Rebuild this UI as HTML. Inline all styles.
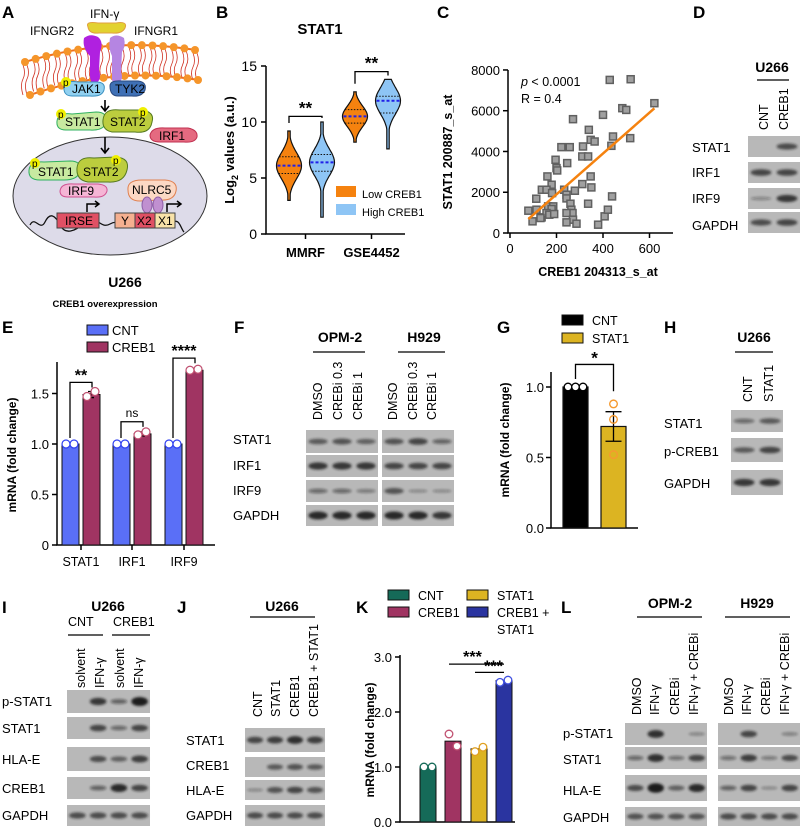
<!DOCTYPE html>
<html><head><meta charset="utf-8"><style>
html,body{margin:0;padding:0;background:#fff;}
svg{display:block;font-family:"Liberation Sans",Arial,sans-serif;}
</style></head><body>
<svg id="fig" width="800" height="830" viewBox="0 0 800 830" xmlns="http://www.w3.org/2000/svg">
<defs><filter id="blur" x="-50%" y="-100%" width="200%" height="300%"><feGaussianBlur stdDeviation="1.2"/></filter></defs>
<g font-weight="bold" font-size="17">
<text x="2" y="18">A</text>
<text x="216" y="18">B</text>
<text x="437" y="18">C</text>
<text x="693" y="18">D</text>
<text x="2" y="333">E</text>
<text x="234" y="333">F</text>
<text x="497" y="333">G</text>
<text x="664" y="333">H</text>
<text x="2" y="613">I</text>
<text x="177" y="613">J</text>
<text x="356" y="613">K</text>
<text x="561" y="613">L</text>
</g>

<!-- Panel A diagram -->
<g font-size="12">
<text x="90" y="18">IFN-γ</text>
<text x="30" y="35">IFNGR2</text>
<text x="134" y="35">IFNGR1</text>
<g id="membrane"></g>
<path d="M88 27 Q85 21 98 23 L116 23 Q128 21 125 28 Q122 34 112 33 L99 33 Q89 34 88 27Z" fill="#e2d230" stroke="#e0a040"/>
<path d="M84 38 Q90 33 98 37 Q104 42 100 52 L99 70 Q102 80 96 83 Q90 84 90 76 L90 56 Q82 48 84 38Z" fill="#b020e0"/>
<path d="M110 38 Q116 33 124 38 Q126 46 122 52 L121 72 Q124 80 118 83 Q111 84 112 76 L112 56 Q108 48 110 38Z" fill="#b585e2"/>
<path d="M64 86 Q66 80 78 82 L96 82 Q106 82 104 90 Q102 97 90 96 L72 96 Q63 96 64 86Z" fill="#90d0f0" stroke="#3a90c0"/>
<text x="72" y="93">JAK1</text>
<circle cx="66" cy="82" r="5" fill="#f0f000"/><text x="63" y="86" font-size="10">p</text>
<path d="M110 86 Q110 80 122 81 L138 81 Q147 82 145 90 Q142 97 132 96 L118 96 Q110 96 110 86Z" fill="#3f70b5" stroke="#2a4a80"/>
<text x="115" y="93">TYK2</text>
<path d="M105 100 L105 110 M101 106 L105 111 L109 106" stroke="#000" stroke-width="1.6" fill="none"/>
<path d="M57 121 Q58 112 72 114 L96 112 Q108 112 106 122 Q104 131 90 130 L66 130 Q56 130 57 121Z" fill="#c8eaa0" stroke="#30b060"/>
<path d="M103 120 Q104 108 120 110 L142 110 Q155 112 152 122 Q150 134 135 132 L112 132 Q102 130 103 120Z" fill="#bccd3e" stroke="#557a20"/>
<text x="65" y="126">STAT1</text><text x="110" y="126">STAT2</text>
<circle cx="61" cy="114" r="5" fill="#f0f000"/><text x="58" y="118" font-size="10">p</text>
<circle cx="143" cy="112" r="5" fill="#f0f000"/><text x="140" y="116" font-size="10">p</text>
<path d="M150 135 Q152 127 165 128 L188 128 Q198 130 197 137 Q195 143 184 142 L160 142 Q150 142 150 135Z" fill="#e56a80" stroke="#c03050"/>
<text x="159" y="140">IRF1</text>
<ellipse cx="110" cy="196" rx="97" ry="59" fill="#dddbe9" stroke="#333" stroke-width="1"/>
<path d="M105 137 L105 152 M101 148 L105 153 L109 148" stroke="#000" stroke-width="1.6" fill="none"/>
<path d="M29 170 Q30 161 44 162 L70 161 Q82 161 80 171 Q78 180 64 180 L40 180 Q28 180 29 170Z" fill="#c8eaa0" stroke="#30b060"/>
<path d="M77 168 Q78 156 94 158 L116 157 Q130 158 127 170 Q124 183 108 182 L88 182 Q76 180 77 168Z" fill="#bccd3e" stroke="#557a20"/>
<text x="38" y="176">STAT1</text><text x="83" y="176">STAT2</text>
<circle cx="35" cy="163" r="5" fill="#f0f000"/><text x="32" y="167" font-size="10">p</text>
<circle cx="116" cy="160" r="5" fill="#f0f000"/><text x="113" y="164" font-size="10">p</text>
<path d="M60 191 Q61 183 74 184 L98 184 Q108 185 107 191 Q105 198 94 197 L68 197 Q60 197 60 191Z" fill="#f5b5d5" stroke="#d05090"/>
<text x="68" y="195">IRF9</text>
<path d="M128 190 Q127 180 142 180 L165 180 Q178 181 176 191 Q174 201 160 200 L140 201 Q128 201 128 190Z" fill="#fbd8c4" stroke="#e08050"/>
<text x="132" y="194">NLRC5</text>
<ellipse cx="147" cy="205" rx="5" ry="8" fill="#c090d0" stroke="#9060a8"/><ellipse cx="158" cy="205" rx="5" ry="8" fill="#c090d0" stroke="#9060a8"/>
<path d="M30 225 C35 215 40 232 45 222 S55 215 60 225 S75 232 85 222 S100 230 110 224 S125 230 135 224 S160 232 170 224 S180 228 184 232" stroke="#111" stroke-width="1.3" fill="none"/>
<rect x="57" y="213" width="42" height="15" fill="#e05064" stroke="#444"/><text x="65" y="225">IRSE</text>
<rect x="115" y="213" width="20" height="15" fill="#f5b090" stroke="#444"/><text x="121" y="225">Y</text>
<rect x="135" y="213" width="20" height="15" fill="#e05064" stroke="#444"/><text x="137" y="225">X2</text>
<rect x="155" y="213" width="20" height="15" fill="#f8e2a8" stroke="#444"/><text x="158" y="225">X1</text>
<path d="M87 212 L87 204 L98 204 M95 201 L99 204 L95 207" stroke="#000" stroke-width="1.5" fill="none"/>
<path d="M167 212 L167 204 L180 204 M177 201 L181 204 L177 207" stroke="#000" stroke-width="1.5" fill="none"/>
<text x="125" y="287" font-size="14" font-weight="bold" text-anchor="middle">U266</text>
<text x="105" y="307" font-size="9.5" font-weight="bold" text-anchor="middle">CREB1 overexpression</text>
</g>

<g id="panelB"></g>
<g id="panelC"></g>
<g id="panelE"></g>
<g id="panelG"></g>
<g id="panelK"></g>
<g id="blots"></g>
</svg>
<script>
const NS='http://www.w3.org/2000/svg';
function mk(parent,tag,attrs,txt){const e=document.createElementNS(NS,tag);for(const k in attrs)e.setAttribute(k,attrs[k]);if(txt!==undefined)e.textContent=txt;parent.appendChild(e);return e;}

/* ---------- Panel B data ---------- */
const bGroups=['MMRF','GSE4452'];
const bMedian=[6.1,6.4,10.5,11.9];
const bQ1=[5.4,5.6,9.9,10.8];
const bQ3=[6.9,7.1,11.1,12.3];
const bMin=[3.0,1.5,8.2,7.6];
const bMax=[9.2,10.0,12.7,13.8];
const bTicks=[0,5,10,15];
const bSeries=['Low CREB1','High CREB1'];

/* ---------- Panel C data ---------- */
const cCreb=[429,519,621,483,500,517,400,271,339,347,364,443,436,221,257,314,311,336,196,246,200,203,161,347,179,137,157,181,233,279,311,350,243,439,336,113,164,186,179,243,260,264,269,243,271,286,136,157,169,190,79,97,131,243,407,421,379,114];
const cStat=[7512,7545,6370,6125,6040,4654,5797,5585,5062,4572,4490,4735,4278,4213,4213,4246,3756,3756,3593,3430,3184,3070,2776,2776,2368,2123,2123,1960,2123,2074,2400,2237,1878,1796,1437,1682,1306,1306,1176,1698,1437,1143,980,980,653,457,768,980,898,931,1094,572,735,523,817,1143,408,1143];
const cXTicks=[0,200,400,600];
const cYTicks=[0,2000,4000,6000,8000];

/* ---------- Panel E data ---------- */
const eCats=['STAT1','IRF1','IRF9'];
const eCNT=[1,1,1];
const eCREB1=[1.49,1.10,1.73];
const eErr=[0.03,0.02,0.01];
const ePtsCNT=[[1,1],[1,1],[1,1]];
const ePtsCREB1=[[1.47,1.52],[1.09,1.12],[1.73,1.74]];
const eTicks=[0,0.5,1.0,1.5];
const eTickLabels=['0','0.5','1.0','1.5'];

/* ---------- Panel G data ---------- */
const gCats=['CNT','STAT1'];
const gMeans=[1.0,0.72];
const gSem=[0,0.105];
const gPts=[[1,1,1],[0.88,0.77,0.52]];
const gTicks=[0,0.5,1.0];
const gTickLabels=['0.0','0.5','1.0'];

/* ---------- Panel K data ---------- */
const kCats=['CNT','CREB1','STAT1','CREB1 + STAT1'];
const kMeans=[1.0,1.47,1.33,2.57];
const kPts=[[1,1],[1.6,1.38],[1.28,1.36],[2.54,2.58]];
const kTicks=[0,1,2,3];
const kTickLabels=['0.0','1.0','2.0','3.0'];

/* ---------- membrane ---------- */
(function(){
 const g=document.getElementById('membrane');
 const top=t=>[25+170*t, (1-t)*(1-t)*62+2*(1-t)*t*36+t*t*50];
 const bot=t=>[30+168*t, (1-t)*(1-t)*95+2*(1-t)*t*66+t*t*80];
 let d1='M',d2='M';
 for(let i=0;i<=40;i++){const a=top(i/40),b=bot(i/40);d1+=a[0].toFixed(1)+' '+a[1].toFixed(1)+' L';d2+=b[0].toFixed(1)+' '+b[1].toFixed(1)+' L';}
 for(let i=0;i<17;i++){const t=i/16;const a=top(t),b=bot(t);
  const tl=mk(g,'path',{d:`M${a[0]-2} ${a[1]+3} q3 8 0 14 q-3 6 0 ${b[1]-a[1]-17} M${a[0]+2} ${a[1]+3} q3 8 0 14 q-3 6 0 ${b[1]-a[1]-17}`,stroke:'#d03020','stroke-width':0.8,fill:'none'});
  
  }
 const l1=mk(g,'path',{d:d1.slice(0,-2),stroke:'#f07020','stroke-width':2,fill:'none'});
 
 
 const l2=mk(g,'path',{d:d2.slice(0,-2),stroke:'#f07020','stroke-width':2,fill:'none'});
 
 
 for(let i=0;i<17;i++){const t=i/16;const a=top(t),b=bot(t);
  const c1=mk(g,'circle',{cx:a[0],cy:a[1],r:4,fill:'#f5952a'});
  
  
  const c2=mk(g,'circle',{cx:b[0],cy:b[1],r:4,fill:'#f5952a'});
  
  }
})();

/* ---------- Panel B render ---------- */
(function(){
 const g=document.getElementById('panelB');
 const yB=v=>234-v*11.2;
 const xC=[289,322,355,388];
 const colors=['#f5820f','#8ec5f5'];
 const t=mk(g,'text',{x:320,y:34,'font-size':15,'font-weight':'bold','text-anchor':'middle'},'STAT1');
 
 
 const ax=mk(g,'path',{d:`M266 ${yB(15)} L266 ${yB(0)} L405 ${yB(0)}`,stroke:'#000','stroke-width':1.5,fill:'none'});
 
 
 bTicks.forEach(v=>{
  mk(g,'line',{x1:261,x2:266,y1:yB(v),y2:yB(v),stroke:'#000','stroke-width':1.5});
  const tl=mk(g,'text',{x:257,y:yB(v)+5,'font-size':14,'text-anchor':'end'},String(v));
  
  
 });
 bGroups.forEach((c,i)=>{
  const cx=(xC[2*i]+xC[2*i+1])/2;
  mk(g,'line',{x1:cx,x2:cx,y1:yB(0),y2:yB(0)+5,stroke:'#000','stroke-width':1.5});
  const tl=mk(g,'text',{x:cx,y:257,'font-size':13,'font-weight':'bold','text-anchor':'middle'},c);
  
  
 });
 const yt=mk(g,'text',{transform:'translate(234,150) rotate(-90)','font-size':13,'font-weight':'bold','text-anchor':'middle'});
 
 
 yt.innerHTML='Log<tspan font-size="9" dy="4">2</tspan><tspan dy="-4"> values (a.u.)</tspan>';
 for(let k=0;k<4;k++){
  const sd=(bQ3[k]-bQ1[k])/1.35, W=12.5, n=40;
  let L=[],R=[];
  for(let j=0;j<=n;j++){const v=bMin[k]+(bMax[k]-bMin[k])*j/n;
   const w=Math.max(1.2,W*Math.exp(-Math.pow((v-bMedian[k])/sd,2)/2.2));
   L.push([xC[k]-w,yB(v)]);R.push([xC[k]+w,yB(v)]);}
  const pts=L.concat(R.reverse());
  const vi=mk(g,'path',{d:'M'+pts.map(p=>p[0].toFixed(1)+' '+p[1].toFixed(1)).join(' L')+'Z',fill:colors[k%2],stroke:'#111','stroke-width':1.2});
  
  
  const wAt=v=>Math.max(1.2,W*Math.exp(-Math.pow((v-bMedian[k])/sd,2)/2.2));
  [bQ1[k],bQ3[k]].forEach(q=>{const ql=mk(g,'line',{x1:xC[k]-wAt(q),x2:xC[k]+wAt(q),y1:yB(q),y2:yB(q),stroke:'#111','stroke-width':1,'stroke-dasharray':'1.5 1.5'});
   
   });
  const ml=mk(g,'line',{x1:xC[k]-W+1,x2:xC[k]+W-1,y1:yB(bMedian[k]),y2:yB(bMedian[k]),stroke:'#2020e8','stroke-width':2,'stroke-dasharray':'3 2'});
  
  
 }
 [0,1].forEach(i=>{
  const top=Math.max(bMax[2*i],bMax[2*i+1])+(i?0.7:0.5);
  const br=mk(g,'path',{d:`M${xC[2*i]} ${yB(bMax[2*i])-8} L${xC[2*i]} ${yB(top)} L${xC[2*i+1]} ${yB(top)} L${xC[2*i+1]} ${yB(bMax[2*i+1])-4}`,stroke:'#000','stroke-width':1.3,fill:'none'});
  
  
  const st=mk(g,'text',{x:(xC[2*i]+xC[2*i+1])/2,y:yB(top)-3,'font-size':17,'font-weight':'bold','text-anchor':'middle'},'**');
  
  
 });
 bSeries.forEach((s,i)=>{
  const r=mk(g,'rect',{x:336,y:192+i*18-6,width:20,height:11,fill:colors[i]});
  
  
  const tx=mk(g,'text',{x:362,y:197+i*18+1,'font-size':11},s);
  
  
 });
})();

/* ---------- Panel C render ---------- */
(function(){
 const g=document.getElementById('panelC');
 const xS=v=>510+v*0.2325, yS=v=>233-v*0.02038;
 const ax=mk(g,'path',{d:`M508 ${yS(8000)} L508 233 L673 233`,stroke:'#000','stroke-width':1.5,fill:'none'});
 
 
 cYTicks.forEach(v=>{mk(g,'line',{x1:503,x2:508,y1:yS(v),y2:yS(v),stroke:'#000','stroke-width':1.5});
  const tl=mk(g,'text',{x:500,y:yS(v)+5,'font-size':13,'text-anchor':'end'},String(v));
  
  });
 cXTicks.forEach(v=>{mk(g,'line',{x1:xS(v),x2:xS(v),y1:233,y2:238,stroke:'#000','stroke-width':1.5});
  const tl=mk(g,'text',{x:xS(v),y:253,'font-size':13,'text-anchor':'middle'},String(v));
  
  });
 const yt=mk(g,'text',{transform:'translate(452,152) rotate(-90)','font-size':12.5,'font-weight':'bold','text-anchor':'middle'},'STAT1 200887_s_at');
 
 
 const xt=mk(g,'text',{x:598,y:276,'font-size':12.5,'font-weight':'bold','text-anchor':'middle'},'CREB1 204313_s_at');
 
 
 const p=mk(g,'text',{x:521,y:86,'font-size':12.5});p.innerHTML='<tspan font-style="italic">p</tspan> &lt; 0.0001';
 
 
 const r=mk(g,'text',{x:521,y:103,'font-size':12.5},'R = 0.4');
 
 
 cCreb.forEach((x,i)=>{const s=mk(g,'rect',{x:xS(x)-3.5,y:yS(cStat[i])-3.5,width:7,height:7,fill:'#a0a0a0',stroke:'#606060','stroke-width':1.5});
  
  });
 const n=cCreb.length;let mx=0,my=0;cCreb.forEach((x,i)=>{mx+=x;my+=cStat[i];});mx/=n;my/=n;
 let sxy=0,sxx=0;cCreb.forEach((x,i)=>{sxy+=(x-mx)*(cStat[i]-my);sxx+=(x-mx)*(x-mx);});
 const b=sxy/sxx,a=my-b*mx;const x0=Math.min(...cCreb),x1=Math.max(...cCreb);
 const fl=mk(g,'line',{x1:xS(x0),y1:yS(a+b*x0),x2:xS(x1),y2:yS(a+b*x1),stroke:'#f5820f','stroke-width':2.5});
 
 
})();

/* ---------- Panel E render ---------- */
(function(){
 const g=document.getElementById('panelE');
 const yE=v=>545-v*101;
 const cx=[81,132,184];
 const ax=mk(g,'path',{d:`M57 362 L57 545 L215 545`,stroke:'#000','stroke-width':1.5,fill:'none'});
 
 
 eTicks.forEach((v,i)=>{mk(g,'line',{x1:52,x2:57,y1:yE(v),y2:yE(v),stroke:'#000','stroke-width':1.5});
  const tl=mk(g,'text',{x:49,y:yE(v)+5,'font-size':13,'text-anchor':'end'},eTickLabels[i]);
  
  });
 const yt=mk(g,'text',{transform:'translate(16,455) rotate(-90)','font-size':12,'font-weight':'bold','text-anchor':'middle'},'mRNA (fold change)');
 
 
 eCats.forEach((c,i)=>{
  mk(g,'line',{x1:cx[i],x2:cx[i],y1:545,y2:550,stroke:'#000','stroke-width':1.5});
  const tl=mk(g,'text',{x:cx[i],y:566,'font-size':12.5,'text-anchor':'middle'},c);
  
  
  const b1=mk(g,'rect',{x:cx[i]-19,y:yE(eCNT[i]),width:17,height:yE(0)-yE(eCNT[i]),fill:'#5a6ff7',stroke:'#111','stroke-width':1});
  
  
  const b2=mk(g,'rect',{x:cx[i]+2,y:yE(eCREB1[i]),width:17,height:yE(0)-yE(eCREB1[i]),fill:'#a03462',stroke:'#111','stroke-width':1});
  
  
  const eb=mk(g,'path',{d:`M${cx[i]+10} ${yE(eCREB1[i]+eErr[i])} L${cx[i]+10} ${yE(eCREB1[i]-eErr[i])} M${cx[i]+7} ${yE(eCREB1[i]+eErr[i])} L${cx[i]+13} ${yE(eCREB1[i]+eErr[i])} M${cx[i]+7} ${yE(eCREB1[i]-eErr[i])} L${cx[i]+13} ${yE(eCREB1[i]-eErr[i])}`,stroke:'#000','stroke-width':1.3});
  
  
  ePtsCNT[i].forEach((v,j)=>{const p=mk(g,'circle',{cx:cx[i]-15+j*8,cy:yE(v),r:4,fill:'#fff',stroke:'#3040f0','stroke-width':1.2});
   
   });
  ePtsCREB1[i].forEach((v,j)=>{const p=mk(g,'circle',{cx:cx[i]+6+j*8,cy:yE(v),r:4,fill:'#fff',stroke:'#c05070','stroke-width':1.2});
   
   });
 });
 const sig=['**','ns','****'];
 eCats.forEach((c,i)=>{
  const top=Math.max(eCREB1[i],eCNT[i])+0.12;
  const br=mk(g,'path',{d:`M${cx[i]-11} ${yE(eCNT[i])-6} L${cx[i]-11} ${yE(top)} L${cx[i]+11} ${yE(top)} L${cx[i]+11} ${yE(eCREB1[i])-7}`,stroke:'#000','stroke-width':1.3,fill:'none'});
  
  
  const st=mk(g,'text',{x:cx[i],y:yE(top)-(sig[i]==='ns'?5:2),'font-size':sig[i]==='ns'?12:16,'font-weight':sig[i]==='ns'?'normal':'bold','text-anchor':'middle'},sig[i]);
  
  
 });
 [['CNT','#5a6ff7'],['CREB1','#a03462']].forEach((s,i)=>{
  const r=mk(g,'rect',{x:87,y:325+i*17,width:21,height:10,fill:s[1],stroke:'#111','stroke-width':1});
  
  
  const tx=mk(g,'text',{x:112,y:335+i*17,'font-size':13},s[0]);
  
  
 });
})();

/* ---------- Panel G render ---------- */
(function(){
 const g=document.getElementById('panelG');
 const yG=v=>528-v*141;
 const bx=[563,601],bw=25,cols=['#000','#dcb422'],ptc=['#000','#f59a30'];
 const ax=mk(g,'path',{d:`M551 372 L551 528 L638 528`,stroke:'#000','stroke-width':1.5,fill:'none'});
 
 
 gTicks.forEach((v,i)=>{mk(g,'line',{x1:546,x2:551,y1:yG(v),y2:yG(v),stroke:'#000','stroke-width':1.5});
  const tl=mk(g,'text',{x:544,y:yG(v)+5,'font-size':13,'text-anchor':'end'},gTickLabels[i]);
  
  });
 const yt=mk(g,'text',{transform:'translate(509,440) rotate(-90)','font-size':12,'font-weight':'bold','text-anchor':'middle'},'mRNA (fold change)');
 
 
 gCats.forEach((c,i)=>{
  const b=mk(g,'rect',{x:bx[i],y:yG(gMeans[i]),width:bw,height:yG(0)-yG(gMeans[i]),fill:cols[i],stroke:'#111','stroke-width':1.2});
  
  
  if(gSem[i]>0){const cxm=bx[i]+bw/2;
   const eb=mk(g,'path',{d:`M${cxm} ${yG(gMeans[i]+gSem[i])} L${cxm} ${yG(gMeans[i]-gSem[i])} M${cxm-8} ${yG(gMeans[i]+gSem[i])} L${cxm+8} ${yG(gMeans[i]+gSem[i])} M${cxm-8} ${yG(gMeans[i]-gSem[i])} L${cxm+8} ${yG(gMeans[i]-gSem[i])}`,stroke:'#000','stroke-width':1.3});
   
   }
  gPts[i].forEach((v,j)=>{const px=i===0?bx[i]+5+j*7.5:bx[i]+bw/2;
   const p=mk(g,'circle',{cx:px,cy:yG(v),r:3.8,fill:i===0?'#fff':'none',stroke:i===0?'#000':ptc[i],'stroke-width':1.4});
   
   });
 });
 const br=mk(g,'path',{d:`M${bx[0]+bw/2} ${yG(1)-8} L${bx[0]+bw/2} ${yG(1.16)} L${bx[1]+bw/2} ${yG(1.16)} L${bx[1]+bw/2} ${yG(0.97)}`,stroke:'#000','stroke-width':1.3,fill:'none'});
 
 
 const st=mk(g,'text',{x:(bx[0]+bx[1]+bw)/2,y:yG(1.16)-1,'font-size':17,'font-weight':'bold','text-anchor':'middle'},'*');
 
 
 [['CNT','#000'],['STAT1','#dcb422']].forEach((s,i)=>{
  const r=mk(g,'rect',{x:562,y:315+i*18,width:21,height:10,fill:s[1],stroke:'#111','stroke-width':1});
  
  
  const tx=mk(g,'text',{x:592,y:325+i*18,'font-size':12.5},s[0]);
  
  
 });
})();

/* ---------- Panel K render ---------- */
(function(){
 const g=document.getElementById('panelK');
 const yK=v=>822-v*55;
 const bx=[420,445,471,496],bw=16;
 const cols=['#156a58','#a03462','#dcb422','#2a34a0'],ptc=['#156a58','#c05070','#e0a020','#4050e0'];
 const ax=mk(g,'path',{d:`M400 655 L400 822 L515 822`,stroke:'#000','stroke-width':1.5,fill:'none'});
 
 
 kTicks.forEach((v,i)=>{mk(g,'line',{x1:395,x2:400,y1:yK(v),y2:yK(v),stroke:'#000','stroke-width':1.5});
  const tl=mk(g,'text',{x:392,y:yK(v)+5,'font-size':13,'text-anchor':'end'},kTickLabels[i]);
  
  });
 const yt=mk(g,'text',{transform:'translate(374,740) rotate(-90)','font-size':12,'font-weight':'bold','text-anchor':'middle'},'mRNA (fold change)');
 
 
 kCats.forEach((c,i)=>{
  const b=mk(g,'rect',{x:bx[i],y:yK(kMeans[i]),width:bw,height:yK(0)-yK(kMeans[i]),fill:cols[i],stroke:'#111','stroke-width':1});
  
  
  kPts[i].forEach((v,j)=>{const p=mk(g,'circle',{cx:bx[i]+4+j*8,cy:yK(v),r:3.8,fill:'#fff',stroke:ptc[i],'stroke-width':1.3});
   
   });
 });
 const top=kMeans[3];
 const l1=mk(g,'line',{x1:bx[1]+4,x2:bx[3]+bw/2,y1:yK(top+0.3),y2:yK(top+0.3),stroke:'#000','stroke-width':1.3});
 
 
 const s1=mk(g,'text',{x:(bx[1]+bx[3]+bw)/2-6,y:yK(top+0.3)-2,'font-size':16,'font-weight':'bold','text-anchor':'middle'},'***');
 
 
 const l2=mk(g,'line',{x1:bx[2]+4,x2:bx[3]+bw/2,y1:yK(top+0.15),y2:yK(top+0.15),stroke:'#000','stroke-width':1.3});
 
 
 const s2=mk(g,'text',{x:(bx[2]+bx[3]+bw)/2+2,y:yK(top+0.15)-1,'font-size':16,'font-weight':'bold','text-anchor':'middle'},'***');
 
 
 const leg=[[388,596,'CNT',0],[467,596,'STAT1',2],[388,613,'CREB1',1],[467,613,'CREB1 +',3]];
 leg.forEach(s=>{
  const r=mk(g,'rect',{x:s[0],y:s[1]-6,width:21,height:10,fill:cols[s[3]],stroke:'#111','stroke-width':1});
  
  
  const tx=mk(g,'text',{x:s[0]+30,y:s[1]+4,'font-size':12.5},s[2]);
  
  
 });
 const t2=mk(g,'text',{x:497,y:634,'font-size':12.5},'STAT1');
 
 
})();

/* ---------- Western blots ---------- */
const G=document.getElementById('blots');
function label(x,y,t,size,opts){const e=mk(G,'text',Object.assign({x:x,y:y,'font-size':size||12.5},opts||{}),t);return e;}
function blot(x,y,w,h,ints,name){
 const r=mk(G,'rect',{x:x,y:y,width:w,height:h,fill:'#b8b8b8'});
 
 
 const n=ints.length,lw=w/n;
 ints.forEach((v,i)=>{if(v<=0.02)return;
  const e=mk(G,'ellipse',{cx:x+lw*(i+0.5),cy:y+h/2,rx:lw*0.4,ry:1.2+v*3.5,fill:'#1a1a1a','fill-opacity':Math.min(1,0.25+v*0.8),filter:'url(#blur)'});
  
  });
}
function rowLabels(x,ys,names){names.forEach((t,i)=>{const e=label(x,ys[i],t,13);
 
 });}
function laneLabels(xs,yb,names,size){names.forEach((t,i)=>{const e=mk(G,'text',{transform:`translate(${xs[i]},${yb}) rotate(-90)`,'font-size':size||12.5},t);
 
 });}
function header(x,y,t,x1,x2,ly){const e=label(x,y,t,14,{'font-weight':'bold','text-anchor':'middle'});
 
 
 if(ly<0)return;
 const l=mk(G,'line',{x1:x1,x2:x2,y1:ly,y2:ly,stroke:'#000','stroke-width':1.3});
 
 }

/* D */
header(772,72,'U266',757,789,80);
laneLabels([768,788],130,['CNT','CREB1']);
rowLabels(692,[152,177,203,230],['STAT1','IRF1','IRF9','GAPDH']);
blot(748,136,52,21,[0,0.55],'blot-d-stat1');
blot(748,162,52,21,[0.6,0.6],'blot-d-irf1');
blot(748,188,52,21,[0.12,0.7],'blot-d-irf9');
blot(748,212,52,21,[0.55,0.6],'blot-d-gapdh');

/* F */
header(340,342,'OPM-2',313,365,352);header(424,342,'H929',398,445,352);
laneLabels([322,342,362,397,417,436],420,['DMSO','CREBi 0.3','CREBi 1','DMSO','CREBi 0.3','CREBi 1']);
rowLabels(233,[444,470,495,520],['STAT1','IRF1','IRF9','GAPDH']);
blot(306,430,72,23,[0.45,0.5,0.4],'blot-f-opm2-stat1');blot(382,430,72,23,[0.5,0.6,0.35],'blot-f-h929-stat1');
blot(306,455,72,22,[0.7,0.7,0.7],'blot-f-opm2-irf1');blot(382,455,72,22,[0.6,0.6,0.6],'blot-f-h929-irf1');
blot(306,480,72,22,[0.3,0.3,0.2],'blot-f-opm2-irf9');blot(382,480,72,22,[0.5,0.1,0.1],'blot-f-h929-irf9');
blot(306,505,72,21,[0.8,0.8,0.8],'blot-f-opm2-gapdh');blot(382,505,72,21,[0.8,0.8,0.7],'blot-f-h929-gapdh');

/* H */
header(754,342,'U266',735,773,352);
laneLabels([752,773],402,['CNT','STAT1']);
rowLabels(664,[428,456,488],['STAT1','p-CREB1','GAPDH']);
blot(731,410,52,22,[0.3,0.45],'blot-h-stat1');
blot(731,438,52,24,[0.45,0.6],'blot-h-pcreb1');
blot(731,470,52,25,[0.7,0.7],'blot-h-gapdh');

/* I */
header(108,611,'U266',0,0,-10);
const gl1=label(68,626,'CNT',12.5);


const gl2=label(113,626,'CREB1',12.5);


mk(G,'line',{x1:68,x2:103,y1:635,y2:635,stroke:'#000','stroke-width':1.3});
mk(G,'line',{x1:112,x2:150,y1:635,y2:635,stroke:'#000','stroke-width':1.3});
laneLabels([85,104,124,143],688,['solvent','IFN-γ','solvent','IFN-γ']);
rowLabels(2,[706,733,764,793,820],['p-STAT1','STAT1','HLA-E','CREB1','GAPDH']);
blot(67,690,83,23,[0,0.7,0.35,0.95],'blot-i-pstat1');
blot(67,717,83,22,[0,0.6,0.3,0.6],'blot-i-stat1');
blot(67,747,83,24,[0,0.55,0.4,0.65],'blot-i-hlae');
blot(67,777,83,22,[0,0.35,0.8,0.6],'blot-i-creb1');
blot(67,805,83,21,[0.55,0.55,0.55,0.55],'blot-i-gapdh');

/* J */
header(282,611,'U266',250,315,617);
laneLabels([262,280,299,318],717,['CNT','STAT1','CREB1','CREB1 + STAT1']);
rowLabels(186,[745,770,795,820],['STAT1','CREB1','HLA-E','GAPDH']);
blot(245,728,80,24,[0.6,0.65,0.75,0.65],'blot-j-stat1');
blot(245,757,80,20,[0,0.45,0.5,0.45],'blot-j-creb1');
blot(245,780,80,20,[0.1,0.5,0.6,0.5],'blot-j-hlae');
blot(245,805,80,21,[0.55,0.55,0.55,0.55],'blot-j-gapdh');

/* L */
header(670,608,'OPM-2',637,702,617);header(757,608,'H929',725,790,617);
laneLabels([641,659,679,698,733,751,770,789],715,['DMSO','IFN-γ','CREBi','IFN-γ + CREBi','DMSO','IFN-γ','CREBi','IFN-γ + CREBi']);
rowLabels(563,[738,764,795,822],['p-STAT1','STAT1','HLA-E','GAPDH']);
blot(625,723,82,22,[0,0.75,0,0.12],'blot-l-opm2-pstat1');blot(718,723,82,22,[0,0.6,0,0.15],'blot-l-h929-pstat1');
blot(625,747,82,22,[0.3,0.75,0.25,0.6],'blot-l-opm2-stat1');blot(718,747,82,22,[0.25,0.65,0.2,0.55],'blot-l-h929-stat1');
blot(625,775,82,26,[0.55,1,0.4,0.8],'blot-l-opm2-hlae');blot(718,775,82,26,[0.35,0.6,0.1,0.6],'blot-l-h929-hlae');
blot(625,807,82,19,[0.5,0.5,0.5,0.5],'blot-l-opm2-gapdh');blot(718,807,82,19,[0.55,0.55,0.55,0.55],'blot-l-h929-gapdh');
</script>
</body></html>
